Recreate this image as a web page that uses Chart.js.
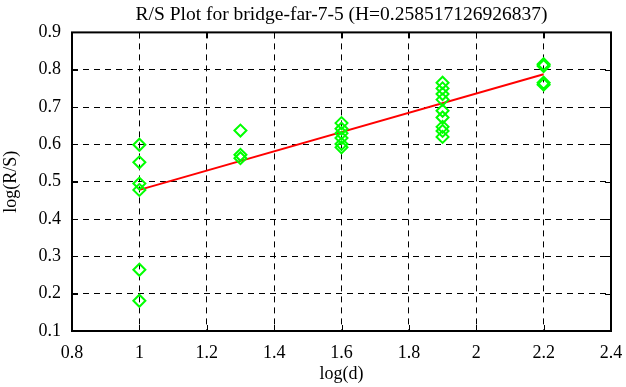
<!DOCTYPE html>
<html>
<head>
<meta charset="utf-8">
<script src="https://cdn.jsdelivr.net/npm/chart.js@4/dist/chart.umd.min.js"></script>
<style>
  html, body { margin: 0; padding: 0; background: #fff; }
  #wrap { width: 626px; height: 387px; }
</style>
</head>
<body>
<div id="wrap"><canvas id="rsChart"></canvas></div>
<script>
'use strict';

// R/S samples, log(d) -> log(R/S)
const logD = [1, 1, 1, 1, 1, 1,
  1.3, 1.3, 1.3,
  1.6, 1.6, 1.6, 1.6, 1.6, 1.6,
  1.9, 1.9, 1.9, 1.9, 1.9, 1.9, 1.9, 1.9, 1.9,
  2.2, 2.2, 2.2, 2.2];
const logRS = [0.599, 0.552, 0.495, 0.478, 0.264, 0.181,
  0.637, 0.572, 0.563,
  0.657, 0.642, 0.63, 0.617, 0.601, 0.592,
  0.765, 0.75, 0.735, 0.72, 0.69, 0.672, 0.647, 0.636, 0.62,
  0.815, 0.81, 0.765, 0.76];

// fitted line end points
const fitX = [1, 2.2];
const fitY = [0.478, 0.788];

const xTickValues = [0.8, 1, 1.2, 1.4, 1.6, 1.8, 2, 2.2, 2.4];
const xTickLabels = ['0.8', '1', '1.2', '1.4', '1.6', '1.8', '2', '2.2', '2.4'];
const yTickValues = [0.1, 0.2, 0.3, 0.4, 0.5, 0.6, 0.7, 0.8, 0.9];
const yTickLabels = ['0.1', '0.2', '0.3', '0.4', '0.5', '0.6', '0.7', '0.8', '0.9'];

const FONT = '"Liberation Serif", "DejaVu Serif", serif';

// short solid tick marks pointing into the plot, on all four sides
const innerTicks = {
  id: 'innerTicks',
  afterDraw(chart) {
    const { ctx, chartArea: a, scales } = chart;
    ctx.save();
    ctx.strokeStyle = '#000';
    ctx.lineWidth = 1;
    ctx.beginPath();
    xTickValues.forEach(v => {
      const px = Math.round(scales.x.getPixelForValue(v)) + 0.5;
      ctx.moveTo(px, a.bottom); ctx.lineTo(px, a.bottom - 6);
      ctx.moveTo(px, a.top); ctx.lineTo(px, a.top + 6);
    });
    yTickValues.forEach(v => {
      const py = Math.round(scales.y.getPixelForValue(v)) + 0.5;
      ctx.moveTo(a.left, py); ctx.lineTo(a.left + 6, py);
      ctx.moveTo(a.right, py); ctx.lineTo(a.right - 6, py);
    });
    ctx.stroke();
    ctx.lineWidth = 2;
    ctx.strokeRect(a.left, a.top, a.right - a.left, a.bottom - a.top);
    ctx.restore();
  }
};

const scatterData = logD.map((x, i) => ({ x, y: logRS[i] }));
const fitData = fitX.map((x, i) => ({ x, y: fitY[i] }));

new Chart(document.getElementById('rsChart'), {
  type: 'scatter',
  data: {
    datasets: [{
      label: 'R/S',
      data: scatterData,
      pointStyle: 'rectRot',
      pointRadius: 6,
      pointBorderWidth: 2,
      borderColor: '#00ff00',
      backgroundColor: 'rgba(0,0,0,0)'
    }, {
      type: 'line',
      label: 'fit',
      data: fitData,
      borderColor: '#ff0000',
      borderWidth: 2,
      pointRadius: 0,
      fill: false
    }]
  },
  options: {
    responsive: true,
    maintainAspectRatio: false,
    animation: false,
    layout: { padding: { left: 0, right: 15, top: 0, bottom: 0 } },
    plugins: {
      legend: { display: false },
      tooltip: { enabled: false },
      title: {
        display: true,
        fullSize: false,
        text: 'R/S Plot for bridge-far-7-5 (H=0.258517126926837)',
        color: '#000',
        font: { family: FONT, size: 19.5, weight: 'normal' },
        padding: { top: 3, bottom: 6 }
      }
    },
    scales: {
      x: {
        type: 'linear',
        min: 0.8,
        max: 2.4,
        afterBuildTicks: s => { s.ticks = xTickValues.map(value => ({ value })); },
        afterFit: s => { s.height = 56; s.paddingLeft = 0; s.paddingRight = 0; },
        ticks: {
          color: '#000',
          font: { family: FONT, size: 18 },
          padding: 11,
          maxRotation: 0,
          callback: (v, i) => xTickLabels[i]
        },
        grid: { color: '#000', lineWidth: 1, drawTicks: false },
        border: { display: false, dash: [6, 5] },
        title: {
          display: true,
          text: 'log(d)',
          color: '#000',
          font: { family: FONT, size: 18 },
          padding: { top: 0, bottom: 2 }
        }
      },
      y: {
        type: 'linear',
        min: 0.1,
        max: 0.9,
        afterBuildTicks: s => { s.ticks = yTickValues.map(value => ({ value })); },
        afterFit: s => { s.width = 72; },
        ticks: {
          color: '#000',
          font: { family: FONT, size: 18 },
          padding: 11,
          callback: (v, i) => yTickLabels[i]
        },
        grid: { color: '#000', lineWidth: 1, drawTicks: false },
        border: { display: false, dash: [6, 5] },
        title: {
          display: true,
          text: 'log(R/S)',
          color: '#000',
          font: { family: FONT, size: 18 },
          padding: { top: 0, bottom: 4 }
        }
      }
    }
  },
  plugins: [innerTicks]
});
</script>
</body>
</html>
